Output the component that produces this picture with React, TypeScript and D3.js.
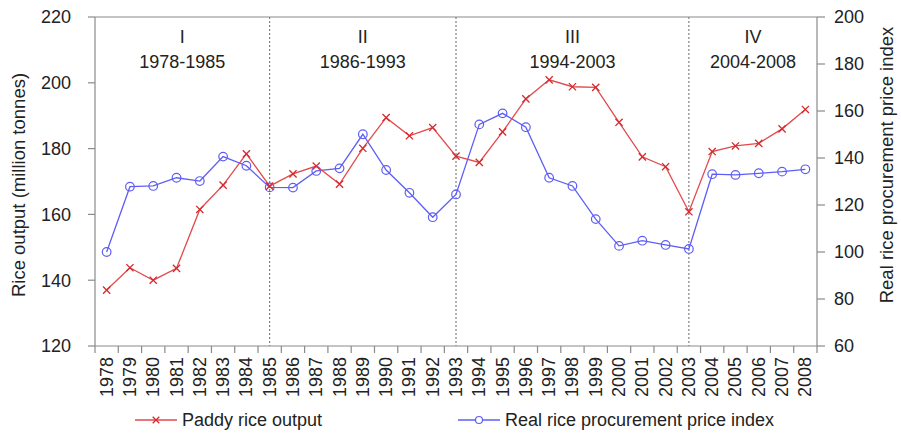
import * as d3 from "d3";

// years on the x axis
const years = d3.range(1978, 2009).map(String);

// paddy rice output, million tonnes (left axis)
const paddyOutput = [
  137.0, 143.8, 140.0, 143.6, 161.5, 168.9, 178.4, 168.6, 172.3, 174.7, 169.2,
  180.1, 189.4, 183.9, 186.4, 177.7, 175.8, 185.1, 195.1, 200.9, 198.8, 198.6,
  188.0, 177.5, 174.5, 160.8, 179.1, 180.8, 181.6, 186.0, 191.9,
];

// real rice procurement price index (right axis)
const priceIndex = [
  100.0, 127.8, 128.1, 131.6, 130.2, 140.6, 136.7, 127.5, 127.4, 134.5, 135.6,
  150.1, 134.9, 125.2, 114.8, 124.5, 154.3, 159.0, 153.1, 131.6, 128.1, 114.0,
  102.6, 104.8, 103.0, 101.3, 133.1, 132.8, 133.5, 134.2, 135.2,
];

const leftTicks = [120, 140, 160, 180, 200, 220];
const rightTicks = [60, 80, 100, 120, 140, 160, 180, 200];

// policy periods: roman numeral, label, last year of period
const periodNames = ["I", "II", "III", "IV"];
const periodLabels = ["1978-1985", "1986-1993", "1994-2003", "2004-2008"];
const dividerYears = ["1985", "1993", "2003"];

const W = 901;
const H = 435;
const m = { left: 95, right: 84, top: 17, bottom: 89 };
const FONT = "'Liberation Sans', Arial, sans-serif";
const RED = "#e24a4c";
const BLUE = "#5e5ef6";
const AXIS = "#8a8a8a";

const App = () => {
  const x = d3
    .scaleBand<string>()
    .domain(years)
    .range([m.left, W - m.right])
    .padding(0);
  const yL = d3.scaleLinear().domain([120, 220]).range([H - m.bottom, m.top]);
  const yR = d3.scaleLinear().domain([60, 200]).range([H - m.bottom, m.top]);
  const cx = (yr: string) => (x(yr) as number) + x.bandwidth() / 2;

  const redLine = d3
    .line<number>()
    .x((_, i) => cx(years[i]))
    .y((d) => yL(d));
  const blueLine = d3
    .line<number>()
    .x((_, i) => cx(years[i]))
    .y((d) => yR(d));

  const x0 = m.left;
  const x1 = W - m.right;
  const yTop = m.top;
  const yBot = H - m.bottom;

  // band edges used for x ticks
  const edges = years.map((yr) => x(yr) as number).concat([x1]);

  // period boundaries in pixels
  const bounds = [x0, ...dividerYears.map(cx), x1];

  const cross = (px: number, py: number, s: number) =>
    `M${px - s},${py - s}L${px + s},${py + s}M${px - s},${py + s}L${px + s},${py - s}`;

  return (
    <svg
      width={W}
      height={H}
      style={{ position: "absolute", left: 0, top: 0, background: "#fff" }}
      fontFamily={FONT}
    >
      {/* period dividers */}
      {dividerYears.map((yr) => (
        <line
          key={yr}
          x1={cx(yr)}
          x2={cx(yr)}
          y1={yTop}
          y2={yBot}
          stroke="#666"
          strokeWidth={1}
          strokeDasharray="2,2"
        />
      ))}

      {/* frame */}
      <line x1={x0} x2={x1} y1={yTop} y2={yTop} stroke={AXIS} strokeWidth={1.2} />
      <line x1={x0} x2={x1} y1={yBot} y2={yBot} stroke={AXIS} strokeWidth={1.2} />
      <line x1={x0} x2={x0} y1={yTop} y2={yBot} stroke={AXIS} strokeWidth={1.2} />
      <line x1={x1} x2={x1} y1={yTop} y2={yBot} stroke={AXIS} strokeWidth={1.2} />

      {/* left axis */}
      {leftTicks.map((t) => (
        <g key={"l" + t}>
          <line x1={x0 - 7} x2={x0} y1={yL(t)} y2={yL(t)} stroke={AXIS} strokeWidth={1.2} />
          <text x={71} y={yL(t)} dy="0.35em" textAnchor="end" fontSize={18} fill="#222">
            {t}
          </text>
        </g>
      ))}

      {/* right axis */}
      {rightTicks.map((t) => (
        <g key={"r" + t}>
          <line x1={x1} x2={x1 + 8} y1={yR(t)} y2={yR(t)} stroke={AXIS} strokeWidth={1.2} />
          <text x={834} y={yR(t)} dy="0.35em" textAnchor="start" fontSize={18} fill="#222">
            {t}
          </text>
        </g>
      ))}

      {/* x axis */}
      {edges.map((e, i) => (
        <line key={"e" + i} x1={e} x2={e} y1={yBot} y2={yBot + 7} stroke={AXIS} strokeWidth={1.2} />
      ))}
      {years.map((yr) => (
        <text
          key={yr}
          transform={`translate(${cx(yr)},${yBot + 11}) rotate(-90)`}
          textAnchor="end"
          dominantBaseline="central"
          fontSize={18}
          fill="#222"
        >
          {yr}
        </text>
      ))}

      {/* axis titles */}
      <text
        transform={`translate(18,185) rotate(-90)`}
        textAnchor="middle"
        dominantBaseline="central"
        fontSize={18.5}
        fill="#222"
      >
        Rice output (million tonnes)
      </text>
      <text
        transform={`translate(886,165) rotate(-90)`}
        textAnchor="middle"
        dominantBaseline="central"
        fontSize={18.5}
        fill="#222"
      >
        Real rice procurement price index
      </text>

      {/* period labels */}
      {periodNames.map((p, i) => {
        const mid = (bounds[i] + bounds[i + 1]) / 2;
        return (
          <g key={p} fill="#222" fontSize={18} textAnchor="middle">
            <text x={mid} y={43}>{p}</text>
            <text x={mid} y={68}>{periodLabels[i]}</text>
          </g>
        );
      })}

      {/* series */}
      <path d={blueLine(priceIndex) ?? ""} fill="none" stroke={BLUE} strokeWidth={1.3} />
      {priceIndex.map((v, i) => (
        <circle key={"c" + i} cx={cx(years[i])} cy={yR(v)} r={4.3} fill="none" stroke={BLUE} strokeWidth={1.2} />
      ))}
      <path d={redLine(paddyOutput) ?? ""} fill="none" stroke={RED} strokeWidth={1.3} />
      {paddyOutput.map((v, i) => (
        <path key={"x" + i} d={cross(cx(years[i]), yL(v), 3.6)} stroke="#d42a2e" strokeWidth={1.3} />
      ))}

      {/* legend */}
      <g>
        <line x1={135} x2={177} y1={420} y2={420} stroke={RED} strokeWidth={1.3} />
        <path d={cross(156, 420, 3.3)} stroke="#d42a2e" strokeWidth={1.3} />
        <text x={182} y={420} dy="0.35em" fontSize={18} fill="#222">
          Paddy rice output
        </text>
        <line x1={458} x2={500} y1={420} y2={420} stroke={BLUE} strokeWidth={1.3} />
        <circle cx={479} cy={420} r={3.5} fill="#fff" stroke={BLUE} strokeWidth={1.2} />
        <text x={505} y={420} dy="0.35em" fontSize={18} fill="#222">
          Real rice procurement price index
        </text>
      </g>
    </svg>
  );
};

export default App;
